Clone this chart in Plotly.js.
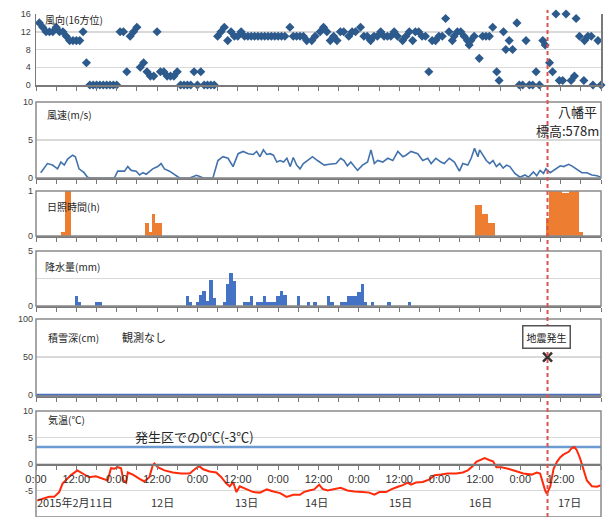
<!DOCTYPE html>
<html>
<head>
<meta charset="utf-8">
<script src="https://cdn.plot.ly/plotly-3.0.1.min.js"></script>
<style>html,body{margin:0;padding:0;background:#fff;}#chart{width:608px;height:517px;}</style>
</head>
<body>
<div id="chart"></div>
<script>
// ---- DATA (x values are hours from 2015-02-11 0:00) ----
var quakeHour = 152.1;           // 17日 8:06 地震発生
var refTemp = 3.2;               // 発生区での0℃(-3℃)

var dirHours = [1,2,3,4,5,6,7,8,9,10,11,12,13,14,15,16,17,18,19,20,21,22,23,24,25,26,27,28,29,30,31,32,33,34,35,36,37,38,39,40,41,42,43,44,45,46,47,48,49,50,51,52,53,54,55,56,57,58,59,60,61,62,63,64,65,66,67,68,69,70,71,72,73,74,75.5,76.5,77.5,78.5,79.5,80.5,82,83,84.5,85.5,86.5,87.5,88.5,89.5,90.5,91.5,93,94,95,96.5,97.5,98.5,99.5,100.5,101.5,102.5,103.5,104.5,105.5,106.5,107.5,109,110,111,112,112.8,113.8,114.8,115.8,116.8,117.8,118.8,119.8,120.8,121.8,122.8,123.8,124.3,125.3,126.3,127.3,128.3,128.8,129.3,130.3,131.8,132.8,133.8,134.8,135.8,137,137.7,139,139.7,140.7,141.7,143,143.7,144.7,145.7,146.7,147.7,148.7,149.7,150.7,151.4,152.7,153.6,154.6,155.6,156.6,157.6,159.1,160.1,160.6,161.6,162.9,163.1,164.1,165.1,165.6,167.1,168];
var dirValues = [14,13,12,12,12,13,12,12,11,10,10,10,10,12,5,0,0,0,0,0,0,0,0,0,12,12,3,11,12,13,4,5,3,2,2,12,3,3,2,2,2,3,0,0,0,0,3,0,3,0,0,0,0,11,12,13,10,12,11,11,12,11,11,11,11,11,11,11,11,11,11,11,11,11,13,11,11,11,11,10,10,11,12,13,12,10,11,10,12,12,11,12,12,13,11,11,10,11,11,12,11,11,11,12,11,10,11,12,10,12,12,11,11,3,10,10,11,11,15,12,10,11,12,12,11,10,9,10,11,6,11,11,11,13,3,1,12,8,10,8,14,0,0,10,0,0,3,0,10,9,5,3,16,1,1,16,1,2,15,11,1,10,11,11,0,10,0];

var spdHours = [1.4,3.4,4.9,6.4,7.4,8.4,9.4,10.9,11.7,12.8,14.3,15.3,16.3,23.3,24.3,26.3,27.3,28.3,29.8,30.8,31.8,32.8,34.7,36.2,37.2,38.2,39.7,40.7,41.7,42.7,45.7,46.7,47.7,48.7,49.7,52.6,54.1,55.6,57.1,58.6,60.1,61.6,63.1,64.6,65.6,66.6,67.6,68.6,69.6,70.6,71.6,72.6,73.6,74.6,75.6,76.5,77.5,78.5,79.5,80.7,82.2,83.7,85.7,87.2,89.2,90.6,91.6,92.6,93.6,95.6,97.1,98.6,99.6,100.6,101.6,103.1,104.6,106.1,107.6,109.1,110.0,111.5,113.5,115.0,116.5,117.5,118.9,120.4,121.4,122.9,124.4,125.9,126.9,128.4,129.4,130.4,131.4,131.9,132.9,133.9,134.9,135.9,136.9,137.9,138.9,139.9,140.9,142.4,143.9,145.4,146.4,147.9,148.9,149.9,150.9,151.6,152.9,154.4,155.9,156.9,158.4,159.3,160.8,162.3,163.8,165.3,166.8,168];
var spdValues = [0.7,1.9,1.7,1.2,2.1,1.7,2.5,3.0,2.8,1.2,0.7,0.1,0,0,0.9,0.9,1.5,1.0,0.9,0.4,0.7,0.5,1.2,1.5,1.9,1.2,0.9,0.6,0.3,0,0,0.2,0.35,0.2,0,0,2.3,2.8,2.6,1.5,3.2,3.5,3.2,3.1,3.5,2.8,3.7,3.1,3.2,3.0,2.1,2.3,2.1,2.6,1.5,2.7,1.7,1.2,1.9,2.3,2.8,2.3,1.7,1.8,1.9,2.6,2.3,1.6,2.1,1.0,1.7,2.1,3.7,1.9,2.3,2.1,2.6,2.3,3.5,2.8,3.0,3.5,3.2,2.3,2.6,1.9,2.6,2.1,1.9,2.6,2.1,0.9,1.9,1.7,2.6,3.9,2.8,3.7,3.0,2.3,1.9,2.3,1.5,1.9,1.3,1.7,1.5,0.6,0.1,0.4,0.1,0.8,0.3,1.0,0.6,1.2,0.7,1.2,1.6,1.5,1.8,1.6,1.2,0.7,0.7,0.4,0.3,0.1];

var sunHours = [8,9,10,33,34,35,36,37,131,132,133,134,135,136,152,153,154,155,156,157,158,159,160,161,162];
var sunValues = [0.1,1,1,0.3,0.1,0.5,0.3,0.3,0.7,0.7,0.5,0.5,0.3,0.3,0.4,1,1,1,1,0.95,0.95,1,1,1,0.1];

var rainHours = [12,13,18,19,45,46,48,49,50,51,52,53,56,57,58,59,62,63,64,66,67,68,69,70,71,72,73,74,78,81,83,87,88,91,92,93,94,95,96,97,98,100,105,111];
var rainValues = [0.9,0.4,0.4,0.4,0.9,0.4,0.4,1.0,1.4,0.5,2.4,0.7,0.4,2.0,3.0,2.3,0.4,0.4,0.9,0.4,0.4,0.9,0.4,0.4,0.4,0.9,1.4,1.0,0.9,0.4,0.4,0.9,0.4,0.4,0.4,0.9,0.9,0.9,1.3,2.0,0.4,0.4,0.4,0.4];

var snowHours = [0,168];
var snowValues = [0,0];

var tempHours = [0.4,2.4,3.9,5.4,6.9,7.9,8.9,10.4,12.3,13.8,15.8,17.8,19.8,21.3,22.3,23.3,24.3,25.3,26,26.8,27.3,28.8,30.8,32.2,33.7,34.7,35.2,36.2,38.2,40.7,43.2,45.7,47.2,48.5,49.7,51.6,53.6,55.1,56.6,57.6,58.6,59.6,60.6,62.6,64.6,66.6,68.6,70.6,72.6,74.5,76.5,78.5,79.6,81.2,82.7,84.2,85.2,86.7,88.7,90.6,92.6,94.6,97.1,99.1,100.6,102.1,104.1,105.6,107.6,109.1,110.5,111.5,113.0,115.0,117.0,118.5,120.4,122.4,124.9,126.9,128.4,129.9,130.9,131.9,133.4,134.9,135.9,136.9,138.4,140.4,142.9,144.9,147.4,148.9,149.9,150.6,151.4,151.9,152.9,153.9,154.9,155.9,156.9,158.4,159.3,160.1,160.8,161.8,162.8,163.8,165.3,166.8,168];
var tempValues = [-6.9,-6.5,-6.2,-6.2,-5.3,-3.7,-3.1,-2.1,-1.2,-1.8,-2.5,-2.3,-2.8,-3.1,-0.8,-0.9,-0.6,-0.8,-3.1,-3.5,-1.6,-2.0,-2.8,-3.3,-2.5,-0.3,0.1,-0.6,-1.2,-1.6,-1.8,-1.8,-1.0,-0.4,-1.0,-1.4,-1.6,-2.5,-3.7,-4.2,-3.4,-5.3,-4.2,-4.8,-5.3,-5.4,-4.8,-5.2,-5.5,-6.2,-5.8,-5.8,-5.3,-5.0,-4.8,-3.9,-4.7,-5.0,-4.8,-4.5,-5.0,-5.2,-5.3,-5.4,-5.8,-5.3,-5.3,-4.8,-4.3,-4.0,-3.5,-3.9,-3.5,-3.4,-2.9,-2.1,-2.0,-1.8,-1.8,-1.6,-1.2,-0.4,0.4,0.7,1.1,0.7,0.5,-0.6,-0.6,-0.9,-1.4,-1.8,-2.0,-1.6,-1.8,-3.4,-5.0,-5.6,-4.3,-0.9,0.4,1.3,1.8,2.3,3.0,3.2,2.6,1.0,-1.2,-3.1,-4.2,-4.3,-4.0];

var dayLabels = ['2015年2月11日','12日','13日','14日','15日','16日','17日'];
var dayLabelHours = [11.6,37.5,62.6,83.4,108.4,132.3,158.5];

// ---- LAYOUT HELPERS ----
var W = 608, H = 517, ML = 36, MR = 7;
function px(x){ return (x - ML) / (W - ML - MR); }
function py(y){ return 1 - y / H; }
var FJ = '"Noto Sans CJK JP", "Noto Sans", sans-serif';
var FN = '"Liberation Sans", Arial, sans-serif';
var frameCol = '#8a8a8a', gridCol = '#d9d9d9';

var tickv = [], tickt = [];
for (var h = 0; h <= 168; h += 6) { tickv.push(h); tickt.push(h % 24 === 0 ? '0:00' : (h % 24 === 12 ? '12:00' : '')); }

var doms = [[py(85), py(14)], [py(178), py(102)], [py(236), py(191)], [py(306), py(251)], [py(396), py(319)], [0, py(411)]];

var traces = [
  {x: dirHours, y: dirValues, xaxis: 'x', yaxis: 'y', type: 'scatter', mode: 'markers',
   marker: {symbol: 'diamond', size: 7, color: '#2c5a8c'}, cliponaxis: false},
  {x: spdHours, y: spdValues, xaxis: 'x2', yaxis: 'y2', type: 'scatter', mode: 'lines',
   line: {color: '#4172ac', width: 1.6}},
  {x: sunHours, y: sunValues, xaxis: 'x3', yaxis: 'y3', type: 'bar', width: 1,
   marker: {color: '#ed7d31', line: {width: 0}}},
  {x: rainHours, y: rainValues, xaxis: 'x4', yaxis: 'y4', type: 'bar', width: 1,
   marker: {color: '#4472c4', line: {width: 0}}},
  {x: snowHours, y: snowValues, xaxis: 'x5', yaxis: 'y5', type: 'scatter', mode: 'lines',
   line: {color: '#4a6fc0', width: 2.5}},
  {x: [quakeHour], y: [50], xaxis: 'x5', yaxis: 'y5', type: 'scatter', mode: 'markers',
   marker: {symbol: 'x-thin', size: 9, color: '#333', line: {width: 2.5, color: '#333'}}},
  {x: tempHours, y: tempValues, xaxis: 'x6', yaxis: 'y6', type: 'scatter', mode: 'lines',
   line: {color: '#ff2a0a', width: 2}}
];

var layout = {
  width: W, height: H, margin: {l: ML, r: MR, t: 0, b: 0},
  paper_bgcolor: '#fff', plot_bgcolor: '#fff', showlegend: false, bargap: 0,
  font: {family: FN, size: 9, color: '#333'},
  shapes: [], annotations: []
};

var yCfg = [
  {range: [0, 16], tickvals: [0, 4, 8, 12, 16], ticktext: ['0','4','8','12','16'], grid: true},
  {range: [0, 10], tickvals: [0, 5, 10], ticktext: ['0','5','10'], grid: true},
  {range: [0, 1], tickvals: [0, 1], ticktext: ['0','1'], grid: false},
  {range: [0, 5], tickvals: [0, 2.5, 5], ticktext: ['0','','5'], grid: true},
  {range: [-1.2, 100], tickvals: [0, 50, 100], ticktext: ['0','50','100'], grid: true},
  {range: [-10, 10], tickvals: [-10, -5, 0, 5, 10], ticktext: ['-10','-5','0','5','10'], grid: true}
];

for (var i = 0; i < 6; i++) {
  var s = i === 0 ? '' : String(i + 1);
  layout['yaxis' + s] = {
    domain: doms[i], range: yCfg[i].range, tickvals: yCfg[i].tickvals, ticktext: yCfg[i].ticktext,
    showgrid: yCfg[i].grid, gridcolor: gridCol, gridwidth: 1.5, zeroline: false,
    showline: i === 0, linecolor: '#7a7a7a', linewidth: 1.5, mirror: i === 0,
    ticks: '', ticklabelstandoff: 2, fixedrange: true, anchor: 'x' + s,
    tickfont: {family: FN, size: 9, color: '#404040'}
  };
  var xa = {
    domain: [0, 1], range: [0, 168], tickvals: tickv, ticktext: tickt,
    showticklabels: i === 5, ticks: 'outside', ticklen: 4, tickwidth: 1, tickcolor: '#777',
    showgrid: false, zeroline: false, showline: true, linecolor: '#7a7a7a', linewidth: 1.5,
    fixedrange: true, tickfont: {family: FN, size: 11, color: '#333'}
  };
  if (i === 5) { xa.anchor = 'free'; xa.position = py(464); }
  else { xa.anchor = 'y' + s; }
  if (i > 0) xa.matches = 'x';
  layout['xaxis' + s] = xa;
  if (i > 0) {
    layout.shapes.push({type: 'rect', xref: 'paper', yref: 'y' + s + ' domain', x0: 0, x1: 1, y0: 0, y1: 1,
      line: {color: frameCol, width: 1.5}, layer: 'above'});
  }
}

// reference temperature line
layout.shapes.push({type: 'line', xref: 'paper', yref: 'y6', x0: 0, x1: 1, y0: refTemp, y1: refTemp,
  line: {color: '#6b9bd0', width: 2.5}, layer: 'below'});
// earthquake line
layout.shapes.push({type: 'line', xref: 'x', yref: 'paper', x0: quakeHour, x1: quakeHour, y0: 0, y1: py(10),
  line: {color: '#d9534f', width: 2, dash: '4px,3px'}, layer: 'above'});

function ann(text, x, y, opts) {
  var a = {text: text, xref: 'paper', yref: 'paper', x: px(x), y: py(y), showarrow: false,
    xanchor: 'left', yanchor: 'middle', font: {family: FJ, size: 10, color: '#262626'}};
  for (var k in opts) a[k] = opts[k];
  layout.annotations.push(a);
}
ann('風向(16方位)', 43, 19);
ann('風速(m/s)', 45, 115);
ann('日照時間(h)', 45, 206);
ann('降水量(mm)', 43, 266);
ann('積雪深(cm)', 46, 337);
ann('観測なし', 120, 337, {font: {family: FJ, size: 11, color: '#262626'}});
ann('気温(℃)', 46, 419);
ann('発生区での0℃(-3℃)', 194, 436, {xanchor: 'center', font: {family: FJ, size: 13, color: '#262626'}});
ann('八幡平', 577, 112, {xanchor: 'center', font: {family: FJ, size: 13, color: '#262626'}});
ann('標高:578m', 601, 130, {xanchor: 'right', font: {family: FJ, size: 13, color: '#262626'}});
ann('地震発生', 546, 337, {xanchor: 'center', bgcolor: '#fff', bordercolor: '#555', borderwidth: 1.5, borderpad: 3,
  font: {family: FJ, size: 10, color: '#222'}});

for (var d = 0; d < dayLabels.length; d++) {
  layout.annotations.push({text: dayLabels[d], xref: 'x6', yref: 'paper', x: dayLabelHours[d], y: py(502),
    showarrow: false, xanchor: 'center', yanchor: 'middle', font: {family: FJ, size: 11, color: '#333'}});
}

Plotly.newPlot('chart', traces, layout, {staticPlot: true, displayModeBar: false});
</script>
</body>
</html>
